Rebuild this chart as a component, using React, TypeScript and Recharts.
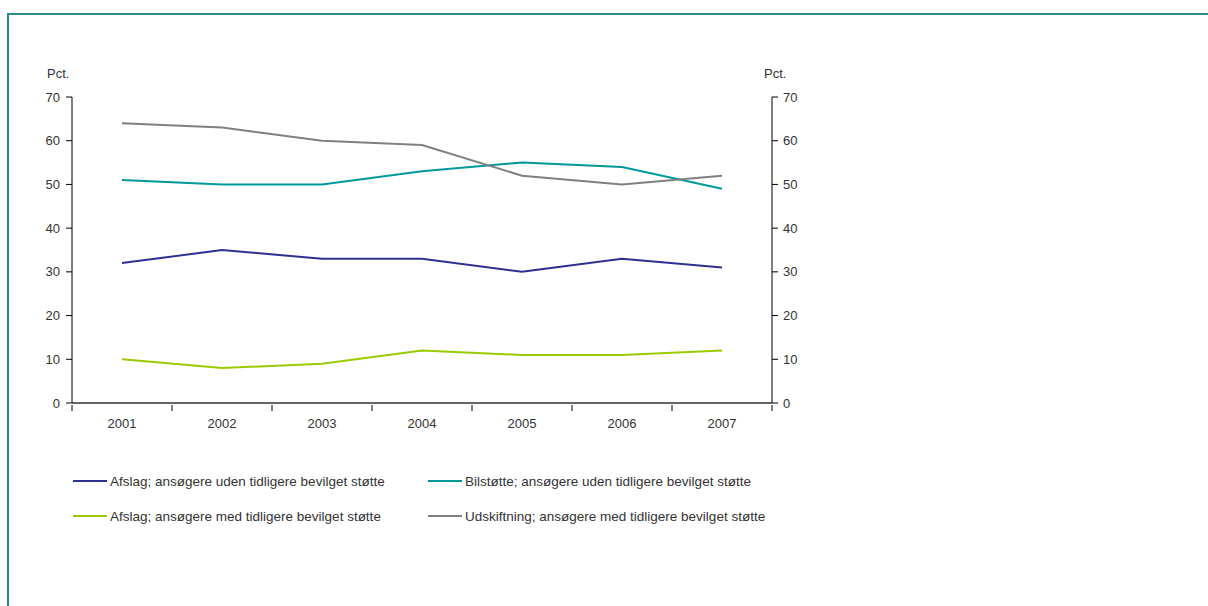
import React from "react";
import { LineChart, Line, XAxis, YAxis } from "recharts";

const years = [2001, 2002, 2003, 2004, 2005, 2006, 2007];
const afslagUden = [32, 35, 33, 33, 30, 33, 31];
const bilstotteUden = [51, 50, 50, 53, 55, 54, 49];
const afslagMed = [10, 8, 9, 12, 11, 11, 12];
const udskiftningMed = [64, 63, 60, 59, 52, 50, 52];
const yTicks = [0, 10, 20, 30, 40, 50, 60, 70];
const boundaryTicks = [2000.5, 2001.5, 2002.5, 2003.5, 2004.5, 2005.5, 2006.5, 2007.5];

const seriesNames = [
  "Afslag; ansøgere uden tidligere bevilget støtte",
  "Bilstøtte; ansøgere uden tidligere bevilget støtte",
  "Afslag; ansøgere med tidligere bevilget støtte",
  "Udskiftning; ansøgere med tidligere bevilget støtte",
];
const colors = ["#2E3192", "#00999A", "#99CC00", "#808080"];
const keys = ["afslagUden", "bilstotteUden", "afslagMed", "udskiftningMed"];
const axisOf = ["left", "left", "right", "right"];

const data = years.map((y, i) => ({
  year: y,
  afslagUden: afslagUden[i],
  bilstotteUden: bilstotteUden[i],
  afslagMed: afslagMed[i],
  udskiftningMed: udskiftningMed[i],
}));

const FONT = "'Liberation Sans', Arial, sans-serif";
const TEXT = "#333333";

const XTick = (props: any) => {
  const { x, y, payload } = props;
  const v = payload.value as number;
  if (Number.isInteger(v)) {
    return (
      <text x={x} y={y + 14} textAnchor="middle" dominantBaseline="middle" fill={TEXT} fontSize={13} fontFamily={FONT}>
        {v}
      </text>
    );
  }
  return <line x1={x} x2={x} y1={y - 6} y2={y} stroke="#000" strokeWidth={1} />;
};

const allXTicks = [...boundaryTicks, ...years].sort((a, b) => a - b);

export default function App() {
  return (
    <div style={{ position: "absolute", left: 0, top: 0, width: 1208, height: 606, background: "#fff", overflow: "hidden", fontFamily: FONT }}>
      <div
        style={{
          position: "absolute",
          left: 7,
          top: 13,
          width: 1210,
          height: 600,
          borderTop: "2px solid #2E8896",
          borderLeft: "2px solid #2E8896",
        }}
      />
      <div style={{ position: "absolute", left: 0, top: 0 }}>
        <LineChart
          width={1208}
          height={606}
          data={data}
          margin={{ top: 97, left: 22, right: 386, bottom: 173 }}
        >
          <XAxis
            dataKey="year"
            type="number"
            domain={[2000.5, 2007.5]}
            ticks={allXTicks}
            interval={0}
            tickLine={false}
            tick={<XTick />}
            axisLine={{ stroke: "#666666", strokeWidth: 2 }}
            height={30}
          />
          <YAxis
            yAxisId="left"
            domain={[0, 70]}
            ticks={yTicks}
            interval={0}
            width={50}
            tickSize={6}
            tickMargin={6}
            tickLine={{ stroke: "#000" }}
            axisLine={{ stroke: "#000" }}
            tick={{ fill: TEXT, fontSize: 13, fontFamily: FONT }}
          />
          <YAxis
            yAxisId="right"
            orientation="right"
            domain={[0, 70]}
            ticks={yTicks}
            interval={0}
            width={50}
            tickSize={6}
            tickMargin={5}
            tickLine={{ stroke: "#000" }}
            axisLine={{ stroke: "#000" }}
            tick={{ fill: TEXT, fontSize: 13, fontFamily: FONT }}
          />
          {keys.map((k, i) => (
            <Line
              key={k}
              yAxisId={axisOf[i]}
              dataKey={k}
              name={seriesNames[i]}
              stroke={colors[i]}
              strokeWidth={2}
              dot={false}
              activeDot={false}
              isAnimationActive={false}
            />
          ))}
        </LineChart>
      </div>
      <div style={{ position: "absolute", left: 47, top: 66, fontSize: 13, color: TEXT }}>Pct.</div>
      <div style={{ position: "absolute", left: 764, top: 66, fontSize: 13, color: TEXT }}>Pct.</div>
      {seriesNames.map((n, i) => {
        const col = i % 2;
        const row = Math.floor(i / 2);
        const left = col === 0 ? 73 : 428;
        const top = row === 0 ? 472 : 507;
        return (
          <div key={n} style={{ position: "absolute", left, top, display: "flex", alignItems: "center", fontSize: 13.5, color: TEXT, whiteSpace: "nowrap", height: 18 }}>
            <span style={{ display: "inline-block", width: 34, height: 2, background: colors[i], marginRight: 3 }} />
            <span>{n}</span>
          </div>
        );
      })}
    </div>
  );
}
